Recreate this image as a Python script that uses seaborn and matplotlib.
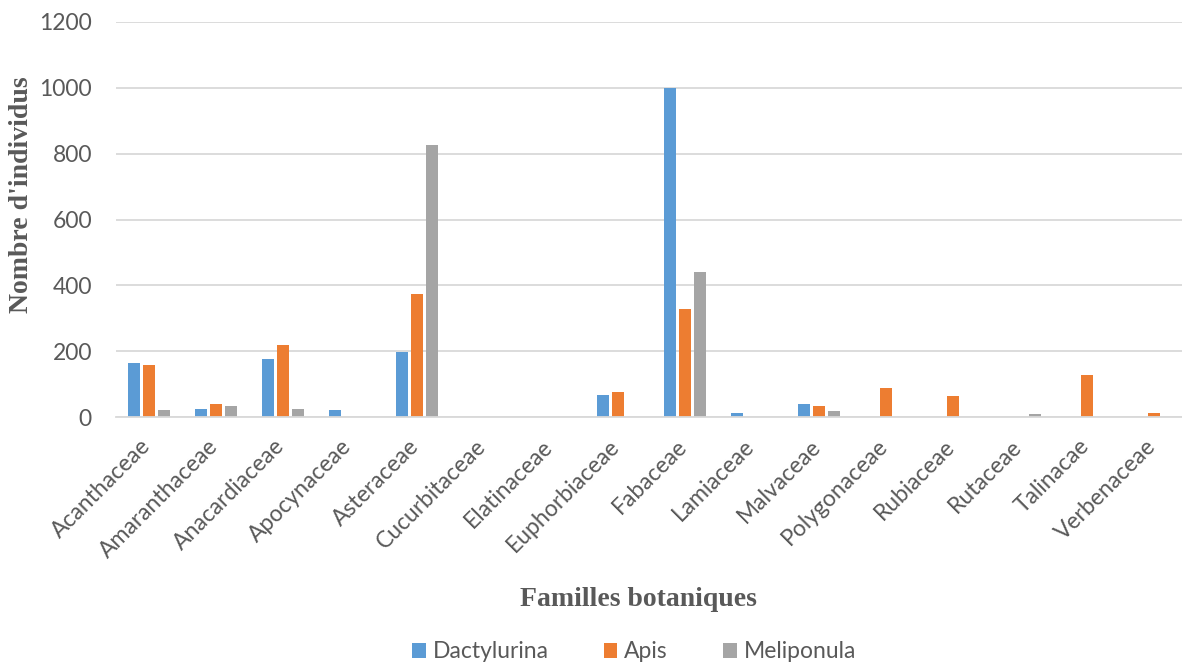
import numpy as np
import pandas as pd
import matplotlib
matplotlib.use("Agg")
import matplotlib.pyplot as plt
import matplotlib.transforms as mtransforms
import seaborn as sns

families = ["Acanthaceae", "Amaranthaceae", "Anacardiaceae", "Apocynaceae", "Asteraceae",
            "Cucurbitaceae", "Elatinaceae", "Euphorbiaceae", "Fabaceae", "Lamiaceae",
            "Malvaceae", "Polygonaceae", "Rubiaceae", "Rutaceae", "Talinacae", "Verbenaceae"]
dactylurina = [164, 25, 177, 21, 198, 0, 0, 68, 998, 13, 38, 0, 0, 0, 0, 0]
apis = [157, 38, 219, 0, 375, 0, 0, 76, 329, 0, 33, 88, 63, 0, 127, 13]
meliponula = [21, 34, 25, 0, 825, 0, 0, 0, 439, 0, 17, 0, 0, 9, 0, 0]
series_names = ["Dactylurina", "Apis", "Meliponula"]
colors = ["#5B9BD5", "#ED7D31", "#A5A5A5"]
yticks = [0, 200, 400, 600, 800, 1000, 1200]

df = pd.DataFrame({
    "famille": families * 3,
    "valeur": dactylurina + apis + meliponula,
    "serie": [series_names[0]] * 16 + [series_names[1]] * 16 + [series_names[2]] * 16,
})

sns.set_theme(style="white")
plt.rcParams["font.family"] = ["Lato", "DejaVu Sans"]
TXT = "#595959"
GRID = "#D9D9D9"

W, H = 1182, 664
fig = plt.figure(figsize=(W / 100, H / 100), dpi=100)
left_px, base_px, top_px, step = 115.5, 417, 22, 67.0
ax = fig.add_axes([left_px / W, (H - base_px) / H, 16 * step / W, (base_px - top_px) / H])

sns.barplot(data=df, x="famille", y="valeur", hue="serie", order=families,
            hue_order=series_names, palette=colors, saturation=1, width=0.67, gap=0.22,
            linewidth=0, errorbar=None, ax=ax, zorder=3)

ax.set_ylim(0, 1200)
ax.set_xlim(-0.5, 15.5)
ax.set_yticks(yticks)
ax.set_yticklabels([str(v) for v in yticks], fontsize=16.5, color=TXT)
ax.yaxis.grid(True, color=GRID, linewidth=1.3, zorder=0)
ax.set_axisbelow(True)
for s in ["top", "right", "left"]:
    ax.spines[s].set_visible(False)
ax.spines["bottom"].set_color(GRID)
ax.spines["bottom"].set_linewidth(1.3)
ax.spines["bottom"].set_zorder(4)
ax.tick_params(axis="y", length=0, pad=17)

ax.set_xticks(range(len(families)))
ax.set_xticklabels(families, rotation=45, ha="right", va="baseline", rotation_mode="anchor",
                   fontsize=16.5, color=TXT)
ax.tick_params(axis="x", which="major", length=0, pad=22)
offset = mtransforms.ScaledTranslation(3 / 100, 0, fig.dpi_scale_trans)
for lab in ax.get_xticklabels():
    lab.set_transform(lab.get_transform() + offset)
ax.set_xticks(np.arange(-0.5, 15.6, 1), minor=True)
ax.tick_params(axis="x", which="minor", length=5, width=1.3, color=GRID, direction="in")

ax.set_xlabel("")
ax.set_ylabel("")
fig.text(22 / W, 1 - 195 / H, "Nombre d'individus", rotation=90, ha="center", va="center",
         fontsize=20, fontweight="bold", color=TXT, family=["Liberation Serif", "DejaVu Serif"])
fig.text(638 / W, 1 - 600 / H, "Familles botaniques", ha="center", va="center",
         fontsize=20, fontweight="bold", color=TXT, family=["Liberation Serif", "DejaVu Serif"])

handles, labels = ax.get_legend_handles_labels()
if ax.legend_:
    ax.legend_.remove()
fig.legend(handles, labels, loc="center", bbox_to_anchor=(634 / W, 1 - 652 / H),
           ncol=3, frameon=False, fontsize=16.5, handlelength=0.6, handleheight=0.6,
           handletextpad=0.3, columnspacing=2.4, labelcolor=TXT)

fig.savefig("out.png", dpi=100)
